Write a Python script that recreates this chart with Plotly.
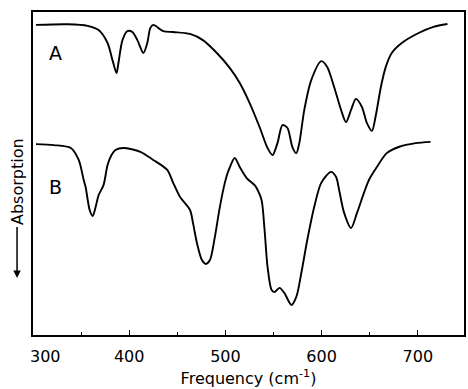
import plotly.graph_objects as go

# Spectrum A (frequency cm^-1, relative transmission)
freq_a = [303.1, 336.2, 356.8, 368.2, 377.5, 382.6, 386.8, 388.8, 393.0, 398.1, 403.3, 408.5,
          414.7, 418.8, 421.9, 425.0, 435.3, 445.7, 463.2, 476.6, 491.1, 504.5, 514.9, 525.2,
          535.5, 543.8, 549.0, 554.1, 559.3, 564.5, 569.6, 573.7, 576.8, 582.0, 589.2, 599.6,
          605.8, 613.0, 620.2, 625.4, 630.6, 635.7, 641.9, 647.1, 652.3, 656.4, 661.6, 666.7,
          672.9, 683.3, 700.8, 716.3, 730.8]
trans_a = [96.0, 96.2, 95.7, 94.4, 90.4, 85.1, 81.1, 84.2, 91.3, 94.1, 93.8, 91.3,
           87.3, 90.4, 95.0, 96.0, 94.1, 93.8, 93.2, 91.3, 87.3, 82.7, 78.0, 71.8,
           64.4, 57.9, 55.7, 59.4, 65.0, 64.1, 58.2, 56.3, 59.4, 69.7, 78.9, 84.8,
           83.0, 76.8, 69.7, 65.9, 69.7, 73.1, 70.6, 65.6, 63.2, 68.1, 76.8, 83.0,
           87.3, 90.4, 93.5, 95.4, 96.3]

# Spectrum B
freq_b = [303.1, 321.7, 339.3, 347.5, 352.7, 354.7, 358.9, 362.0, 365.1, 368.2, 373.3, 377.5,
          381.6, 385.7, 394.0, 411.6, 425.0, 439.5, 445.7, 452.9, 463.2, 466.3, 470.4, 475.6,
          479.7, 483.9, 489.0, 494.2, 499.4, 503.5, 509.7, 514.9, 522.1, 530.4, 533.5, 537.6,
          540.7, 543.8, 548.0, 551.0, 556.2, 561.3, 568.6, 573.7, 578.9, 585.1, 592.3, 599.6,
          609.9, 615.1, 618.2, 623.4, 630.6, 636.8, 644.0, 649.2, 657.4, 667.7, 680.1, 697.7,
          713.2]
trans_b = [59.1, 58.8, 57.9, 54.2, 48.0, 45.8, 38.7, 36.8, 39.6, 43.3, 46.4, 52.6,
           55.7, 57.3, 57.9, 56.7, 54.2, 51.1, 47.1, 42.7, 38.7, 34.7, 28.5, 23.2,
           22.0, 23.2, 30.3, 39.6, 47.1, 51.1, 54.8, 52.0, 48.6, 46.4, 44.9, 41.8,
           32.5, 21.1, 13.9, 13.3, 14.6, 13.0, 9.3, 11.8, 19.2, 29.4, 39.6, 47.1,
           50.5, 48.9, 44.9, 37.8, 33.1, 37.8, 44.0, 48.0, 52.0, 56.3, 58.2, 59.4,
           59.8]

tick_vals = [400, 500, 600, 700]
tick_text = ["400", "500", "600", "700"]
first_label = "300"

FONT = "DejaVu Sans"
W, H = 468, 389

fig = go.Figure()
for fx, ty in [(freq_a, trans_a), (freq_b, trans_b)]:
    fig.add_trace(go.Scatter(x=fx, y=ty, mode="lines",
                             line=dict(color="black", width=1.9, shape="spline", smoothing=0.8),
                             showlegend=False, hoverinfo="skip"))

fig.update_layout(
    width=W, height=H,
    margin=dict(l=33, r=2, t=12, b=54),
    paper_bgcolor="white", plot_bgcolor="white",
    font=dict(family=FONT, color="black", size=16),
    xaxis=dict(range=[300, 748], showgrid=False, zeroline=False,
               showline=True, linecolor="black", linewidth=1.6, mirror=True,
               tickvals=tick_vals, ticktext=tick_text, ticks="inside", ticklen=5, tickwidth=1.3,
               tickcolor="black", ticklabelstandoff=6,
               tickfont=dict(family=FONT, size=16),
               minor=dict(tick0=300, dtick=50, ticks="inside", ticklen=3, tickwidth=1.2,
                          tickcolor="black", showgrid=False),
               title=dict(text="Frequency (cm<sup>-1</sup>)", font=dict(family=FONT, size=16), standoff=8)),
    yaxis=dict(range=[0, 100], showgrid=False, zeroline=False, showticklabels=False, ticks="",
               showline=True, linecolor="black", linewidth=1.6, mirror=True),
)

fig.add_annotation(x=313, y=0, xref="x", yref="paper", text=first_label, showarrow=False,
                   yanchor="top", yshift=-10, font=dict(family=FONT, size=16))
fig.add_annotation(x=323.8, y=87.3, xref="x", yref="y", text="A", showarrow=False,
                   font=dict(family=FONT, size=19))
fig.add_annotation(x=323.8, y=45.8, xref="x", yref="y", text="B", showarrow=False,
                   font=dict(family=FONT, size=19))
# y-axis label with downward arrow attached
fig.add_annotation(x=-0.037, y=(335 - 278) / 323, xref="paper", yref="paper", text="Absorption",
                   textangle=-90, font=dict(family=FONT, size=16),
                   showarrow=True, arrowhead=2, arrowsize=1, arrowwidth=1.5, arrowcolor="black",
                   ax=0, ay=-96)

post = ("document.body.style.margin='0';document.body.style.overflow='hidden';"
        "var gd=document.getElementById('{plot_id}');"
        "Plotly.relayout(gd,{width:%d,height:%d});" % (W, H))
fig.write_html("out.html", post_script=post, config={"displayModeBar": False})
